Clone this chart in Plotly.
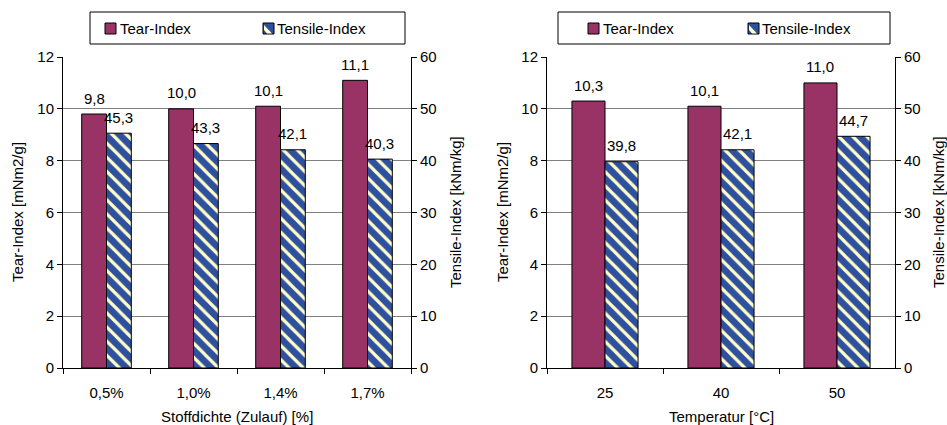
import plotly.graph_objects as go

# ---- data -------------------------------------------------------------
stoff_cats = ["0,5%", "1,0%", "1,4%", "1,7%"]
stoff_tear = [9.8, 10.0, 10.1, 11.1]
stoff_tensile = [45.3, 43.3, 42.1, 40.3]

temp_cats = ["25", "40", "50"]
temp_tear = [10.3, 10.1, 11.0]
temp_tensile = [39.8, 42.1, 44.7]

# ---- styling ----------------------------------------------------------
W, H = 947, 425
FONT = "Liberation Sans, Arial, sans-serif"
FS = 15
TEAR_COLOR = "#993366"
TENSILE_BG = "#2f4f9f"
TENSILE_FG = "#ffffc8"
GRID = "#808080"
BAR_W = 0.285


def fx(p):
    return p / W


def fy(p):
    return 1 - p / H


def fmt(v):
    return f"{v:.1f}".replace(".", ",")


Y_DOMAIN = [fy(368), fy(57)]
LEFT_DOMAIN = [fx(63), fx(411)]
RIGHT_DOMAIN = [fx(547), fx(895)]

fig = go.Figure()


def add_pair(cats, tear, tensile, xa, ya_left, ya_right):
    fig.add_trace(go.Bar(
        x=cats, y=tear, xaxis=xa, yaxis=ya_left,
        width=BAR_W, offset=-BAR_W,
        marker=dict(color=TEAR_COLOR, line=dict(color="black", width=1)),
        showlegend=False, name="Tear-Index",
    ))
    fig.add_trace(go.Bar(
        x=cats, y=tensile, xaxis=xa, yaxis=ya_right,
        width=BAR_W, offset=0,
        marker=dict(
            color=TENSILE_BG,
            line=dict(color="black", width=1),
            pattern=dict(shape="\\", bgcolor=TENSILE_BG, fgcolor=TENSILE_FG,
                         fgopacity=1, size=10, solidity=0.32),
        ),
        showlegend=False, name="Tensile-Index",
    ))
    # value labels above each bar
    for values, ya, shift in ((tear, ya_left, -BAR_W / 2), (tensile, ya_right, BAR_W / 2)):
        for i, v in enumerate(values):
            fig.add_annotation(text=fmt(v), x=i + shift, y=v, xref=xa, yref=ya,
                               xanchor="center", yanchor="middle", yshift=16,
                               showarrow=False, font=dict(size=FS, color="black"))


add_pair(stoff_cats, stoff_tear, stoff_tensile, "x", "y", "y2")
add_pair(temp_cats, temp_tear, temp_tensile, "x2", "y3", "y4")

xcommon = dict(type="category", tickson="boundaries", ticks="outside", ticklen=5,
               tickcolor="black", showline=True, linecolor="black", linewidth=1,
               ticklabelstandoff=11,
               tickfont=dict(size=FS, color="black"), showgrid=False, automargin=False)
yleft = dict(range=[0, 12], dtick=2, showgrid=True, gridcolor=GRID, gridwidth=1,
             showline=True, linecolor="black", ticks="outside", ticklen=5,
             tickcolor="black", zeroline=False, domain=Y_DOMAIN,
             tickfont=dict(size=FS, color="black"), automargin=False)
yright = dict(range=[0, 60], dtick=10, showgrid=False, side="right",
              showline=True, linecolor="black", ticks="outside", ticklen=5,
              tickcolor="black", zeroline=False,
              tickfont=dict(size=FS, color="black"), automargin=False)

fig.update_layout(
    width=W, height=H,
    margin=dict(l=0, r=0, t=0, b=0),
    paper_bgcolor="white", plot_bgcolor="white",
    font=dict(family=FONT, size=FS, color="black"),
    separators=",.",
    barmode="overlay",
    xaxis=dict(xcommon, domain=LEFT_DOMAIN, anchor="y", range=[-0.5, 3.5]),
    yaxis=dict(yleft, anchor="x"),
    yaxis2=dict(yright, anchor="x", overlaying="y"),
    xaxis2=dict(xcommon, domain=RIGHT_DOMAIN, anchor="y3", range=[-0.5, 2.5]),
    yaxis3=dict(yleft, anchor="x2"),
    yaxis4=dict(yright, anchor="x2", overlaying="y3"),
)

# ---- axis titles ------------------------------------------------------
titles = [
    ("Tear-Index [mNm2/g]", 18, 212, -90),
    ("Tensile-Index [kNm/kg]", 456, 212, -90),
    ("Tear-Index [mNm2/g]", 503, 212, -90),
    ("Tensile-Index [kNm/kg]", 939, 212, -90),
    ("Stoffdichte (Zulauf) [%]", 237, 416, 0),
    ("Temperatur [°C]", 721, 416, 0),
]
for text, px_, py_, ang in titles:
    fig.add_annotation(text=text, x=fx(px_), y=fy(py_), xref="paper", yref="paper",
                       xanchor="center", yanchor="middle", textangle=ang,
                       showarrow=False, font=dict(size=FS, color="black"))

# ---- legends ----------------------------------------------------------
def legend_box(x0, x1, tear_sw, tear_tx, ten_sw, ten_tx):
    y0, y1 = 12, 44
    fig.add_shape(type="rect", xref="paper", yref="paper",
                  x0=fx(x0), x1=fx(x1), y0=fy(y1), y1=fy(y0),
                  line=dict(color="black", width=1), fillcolor="white")
    sy0, sy1 = 23, 34
    fig.add_shape(type="rect", xref="paper", yref="paper",
                  x0=fx(tear_sw), x1=fx(tear_sw + 11), y0=fy(sy1), y1=fy(sy0),
                  line=dict(color="black", width=1), fillcolor=TEAR_COLOR)
    fig.add_shape(type="rect", xref="paper", yref="paper",
                  x0=fx(ten_sw), x1=fx(ten_sw + 11), y0=fy(sy1), y1=fy(sy0),
                  line=dict(color="black", width=1), fillcolor=TENSILE_BG)
    pts = [(ten_sw + 1, sy0 + 2), (ten_sw + 9, sy1 - 0.5),
           (ten_sw + 4, sy1 - 0.5), (ten_sw + 1, sy0 + 7)]
    path = "M " + " L ".join(f"{fx(a)},{fy(b)}" for a, b in pts) + " Z"
    fig.add_shape(type="path", xref="paper", yref="paper", path=path,
                  line=dict(width=0), fillcolor=TENSILE_FG)
    for text, tx in (("Tear-Index", tear_tx), ("Tensile-Index", ten_tx)):
        fig.add_annotation(text=text, x=fx(tx), y=fy(28.5), xref="paper", yref="paper",
                           xanchor="left", yanchor="middle", showarrow=False,
                           font=dict(size=FS, color="black"))


legend_box(90, 405, 105, 118, 263, 275)
legend_box(558, 890, 588, 601, 748, 760)

fig.write_html("out.html")
